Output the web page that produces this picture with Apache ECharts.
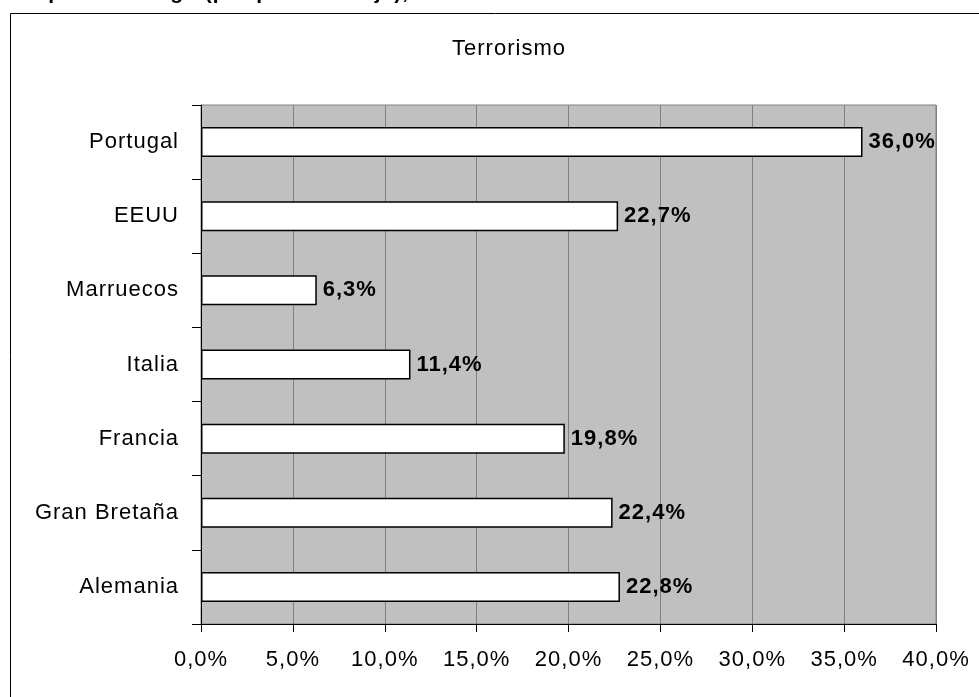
<!DOCTYPE html>
<html>
<head>
<meta charset="utf-8">
<script src="https://cdn.jsdelivr.net/npm/echarts@6/dist/echarts.min.js"></script>
<style>
html,body{margin:0;padding:0;background:#fff;}
#chart{width:979px;height:697px;}
</style>
</head>
<body>
<div id="chart"></div>
<script>
var categories = ['Alemania', 'Gran Bretaña', 'Francia', 'Italia', 'Marruecos', 'EEUU', 'Portugal'];
var values = [22.8, 22.4, 19.8, 11.4, 6.3, 22.7, 36.0];
var chartTitle = 'Terrorismo';
var headerText = 'Grupos de riesgo (por país de viaje),';
var xMin = 0, xMax = 40, xStep = 5;

function pct(v){ return v.toFixed(1).replace('.', ',') + '%'; }

// slightly wider letter spacing, like the original rendering
(function(){
  var proto = CanvasRenderingContext2D.prototype;
  if ('letterSpacing' in proto) {
    var origFill = proto.fillText;
    proto.fillText = function(){
      this.letterSpacing = '1px';
      var r = origFill.apply(this, arguments);
      this.letterSpacing = '0px';
      return r;
    };
  }
})();

var font = 'Liberation Sans, Arial, sans-serif';
var fs = 22;
var chart = echarts.init(document.getElementById('chart'), null, {renderer:'canvas'});
chart.setOption({
  animation: false,
  backgroundColor: '#ffffff',
  graphic: [
    {type:'rect', z:100, silent:true, shape:{x:10.5, y:13.5, width:1000, height:700}, style:{fill:'none', stroke:'#000000', lineWidth:1}},
    {type:'text', z:100, left:8, top:-17, style:{text:headerText, font:'bold 21px ' + font, fill:'#000'}}
  ],
  title: {
    text: chartTitle, left: 504, top: 33, textAlign: 'center',
    textStyle: {fontFamily: font, fontSize: fs, fontWeight: 'normal', color: '#000'}
  },
  grid: {left: 201, right: 43, top: 105, bottom: 73, containLabel: false,
         show: true, backgroundColor: '#c0c0c0', borderColor: '#808080', borderWidth: 1},
  xAxis: {
    type: 'value', min: xMin, max: xMax, interval: xStep,
    axisLine: {show: true, lineStyle: {color: '#000', width: 1}},
    axisTick: {show: true, length: 8, lineStyle: {color: '#000'}},
    splitLine: {show: true, lineStyle: {color: '#808080', width: 1}},
    axisLabel: {formatter: function(v){ return pct(v); }, fontFamily: font, fontSize: fs, color: '#000', margin: 25}
  },
  yAxis: {
    type: 'category', data: categories,
    axisLine: {show: true, lineStyle: {color: '#000', width: 1}},
    axisTick: {show: true, length: 9, lineStyle: {color: '#000'}},
    axisLabel: {fontFamily: font, fontSize: fs, color: '#000', margin: 22}
  },
  series: [{
    type: 'bar', data: values, barWidth: 30,
    itemStyle: {color: '#ffffff', borderColor: '#000000', borderWidth: 1.5},
    label: {show: true, position: 'right', distance: 6, formatter: function(p){ return pct(p.value); },
            fontFamily: font, fontSize: fs, fontWeight: 'bold', color: '#000'}
  }]
});
</script>
</body>
</html>
